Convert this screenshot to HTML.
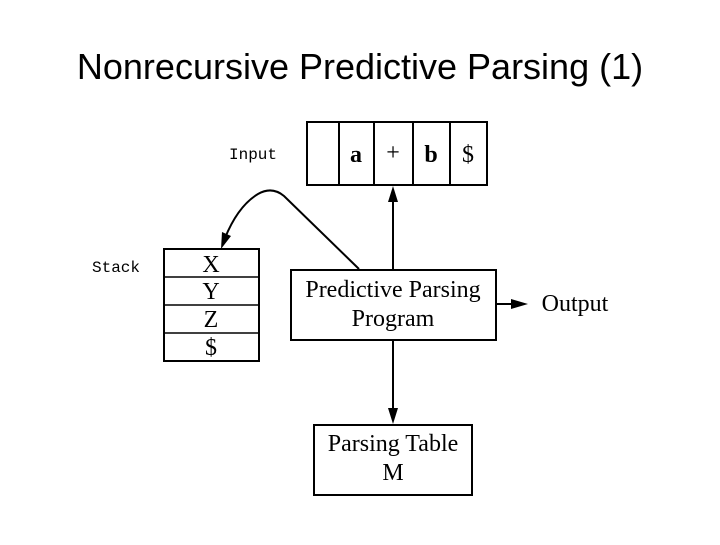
<!DOCTYPE html>
<html><head><style>
body{margin:0;width:720px;height:540px;background:#fff;overflow:hidden}
</style></head><body>
<svg width="720" height="540" xmlns="http://www.w3.org/2000/svg">
<text x="360" y="79" text-anchor="middle" font-family="Liberation Sans, sans-serif" font-size="36">Nonrecursive Predictive Parsing (1)</text>
<g stroke="#000" stroke-width="2" fill="none">
<rect x="307" y="122" width="180" height="63"/>
<line x1="339" y1="122" x2="339" y2="185"/>
<line x1="374" y1="122" x2="374" y2="185"/>
<line x1="413" y1="122" x2="413" y2="185"/>
<line x1="450" y1="122" x2="450" y2="185"/>
<rect x="164" y="249" width="95" height="112"/>
<line x1="164" y1="277" x2="259" y2="277" stroke-width="1.5"/>
<line x1="164" y1="305" x2="259" y2="305" stroke-width="1.5"/>
<line x1="164" y1="333" x2="259" y2="333" stroke-width="1.5"/>
<rect x="291" y="270" width="205" height="70"/>
<rect x="314" y="425" width="158" height="70"/>
<line x1="393" y1="270" x2="393" y2="200"/>
<line x1="393" y1="340" x2="393" y2="410"/>
<line x1="496" y1="304" x2="512" y2="304"/>
<path d="M359 269 L284 196 Q272 186 258 194 Q238 206 225 238"/>
</g>
<g fill="#000">
<polygon points="393,186 388,202 398,202"/>
<polygon points="393,424 388,408 398,408"/>
<polygon points="528,304 511,299 511,309"/>
<polygon points="221,249 222,232 231,236"/>
</g>
<g font-family="Liberation Serif, serif" font-size="24" text-anchor="middle">
<text x="356" y="162" font-weight="bold">a</text>
<text x="393" y="160">+</text>
<text x="431" y="162" font-weight="bold">b</text>
<text x="468" y="162">$</text>
<text x="211" y="272">X</text>
<text x="211" y="299">Y</text>
<text x="211" y="327">Z</text>
<text x="211" y="355">$</text>
<text x="393" y="297">Predictive Parsing</text>
<text x="393" y="326">Program</text>
<text x="393" y="451">Parsing Table</text>
<text x="393" y="480">M</text>
<text x="575" y="311">Output</text>
</g>
<g font-family="Liberation Mono, monospace" font-size="16">
<text x="229" y="159">Input</text>
<text x="92" y="272">Stack</text>
</g>
</svg>
</body></html>
